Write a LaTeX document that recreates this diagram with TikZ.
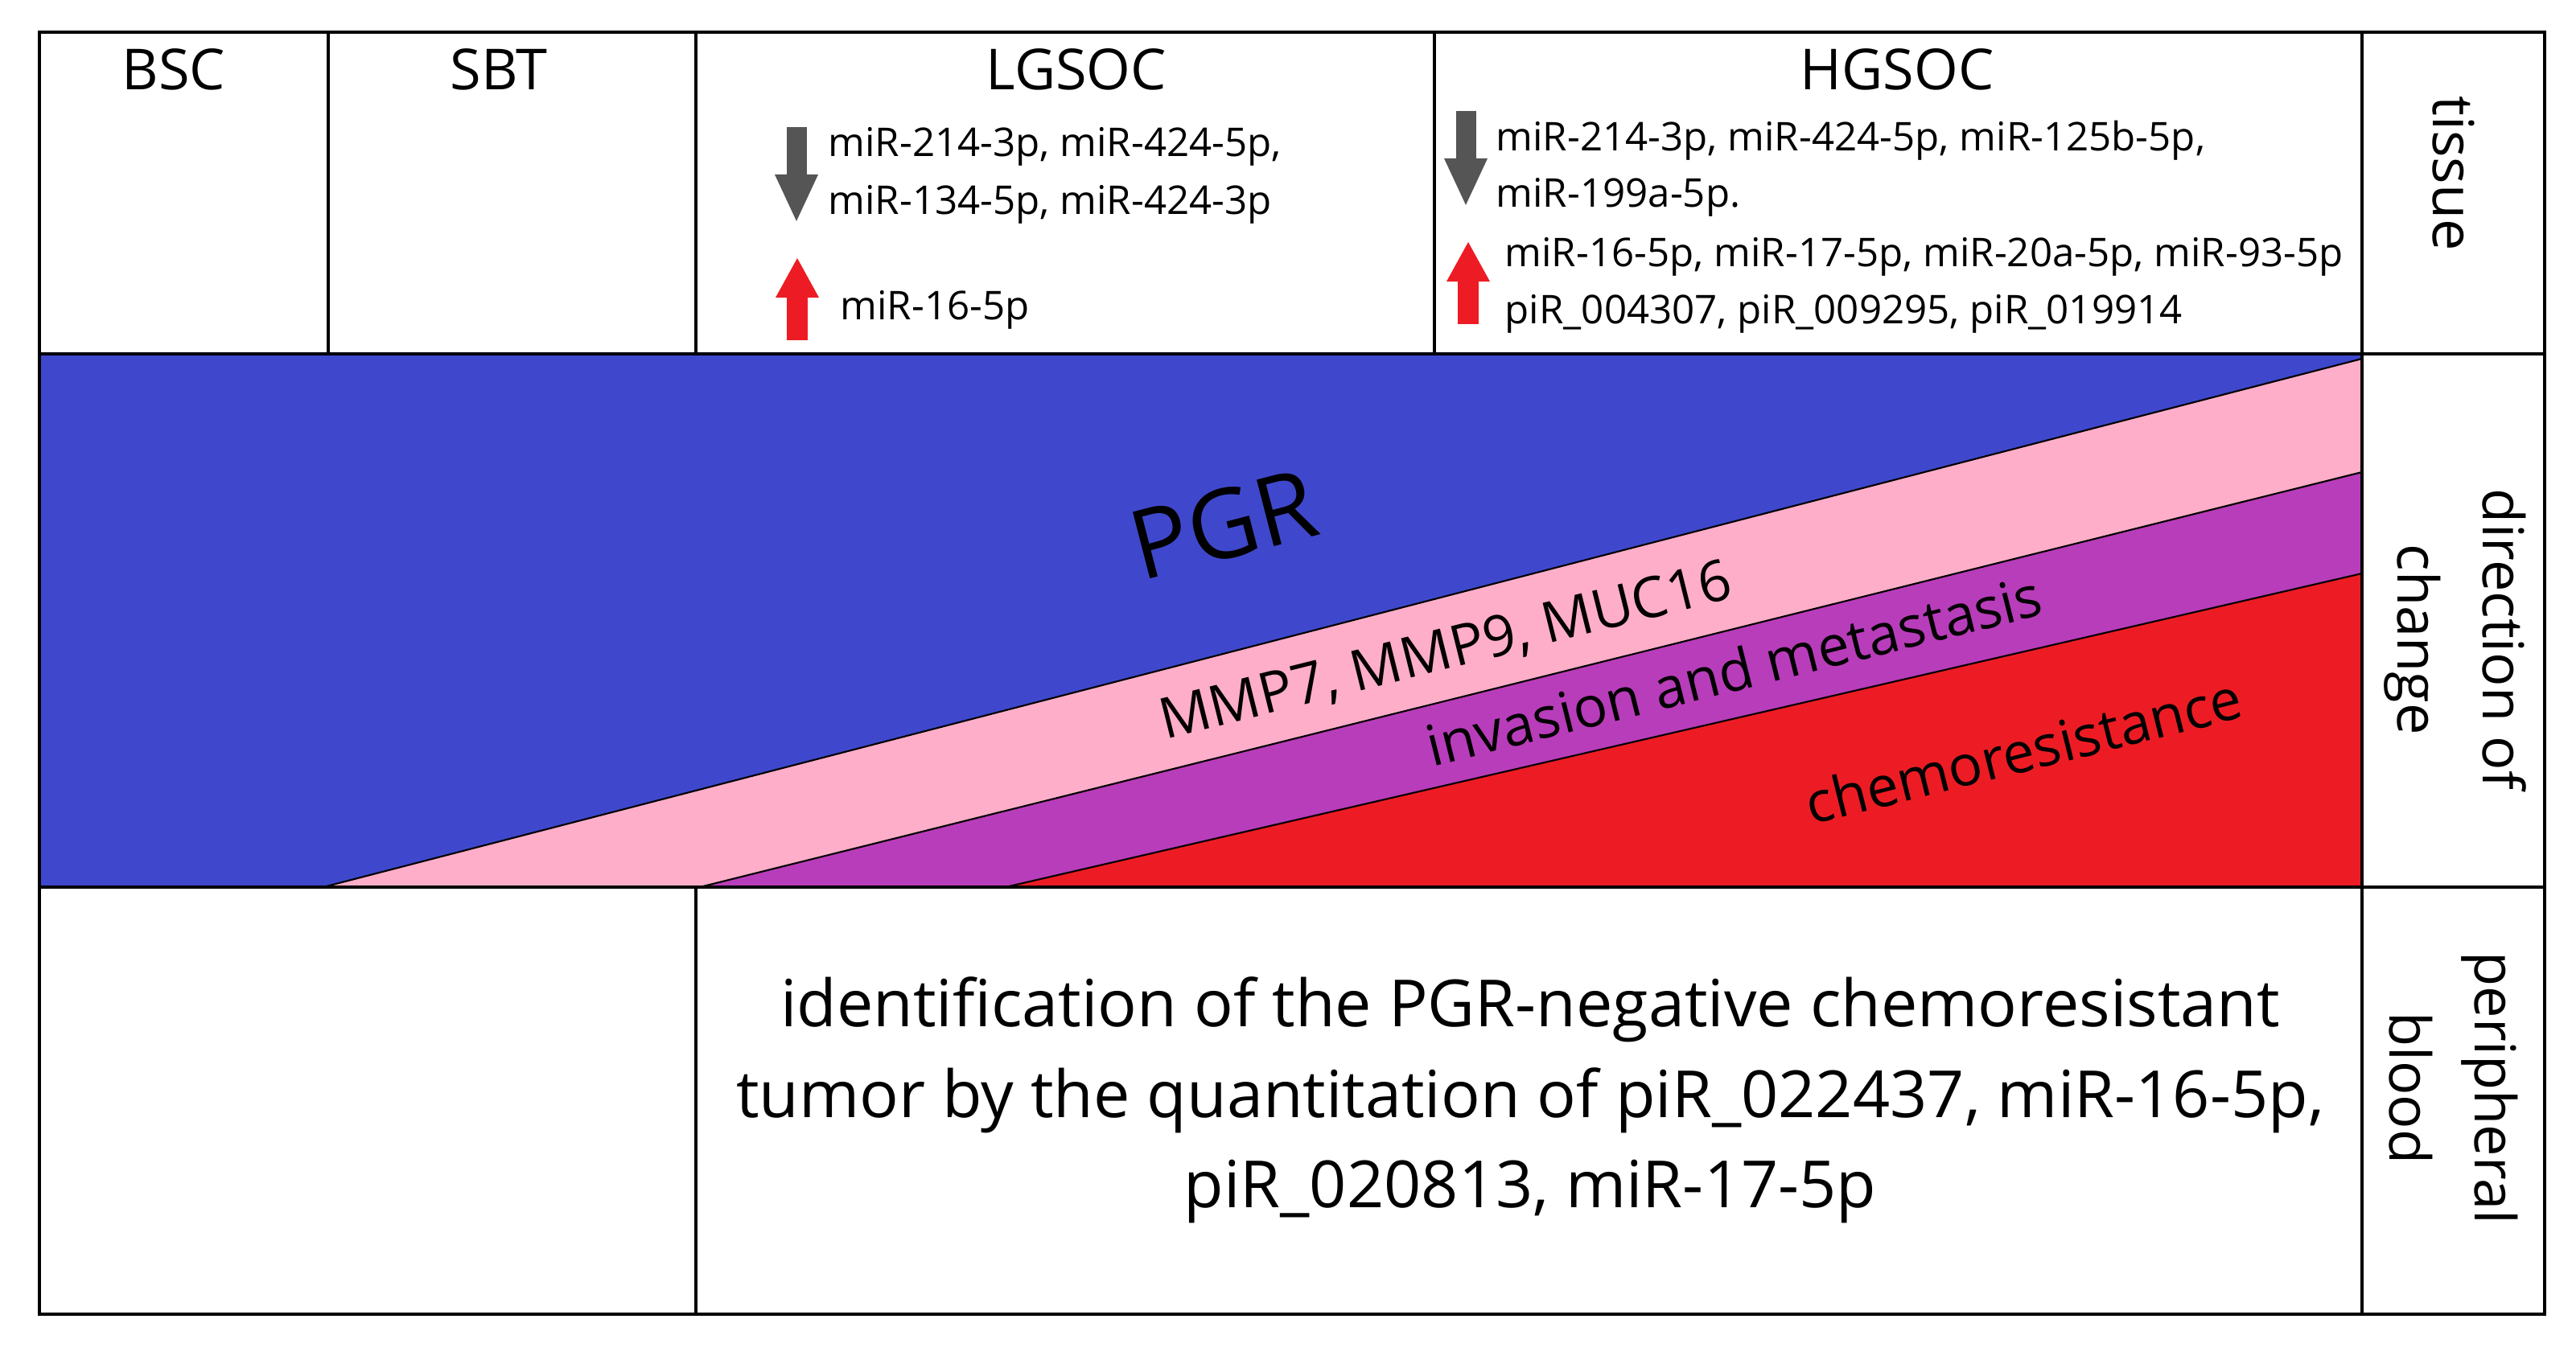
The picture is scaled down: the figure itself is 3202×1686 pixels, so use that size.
\documentclass[tikz,border=0pt]{standalone}
\usepackage{fontspec}
\setmainfont{Open Sans}
\usetikzlibrary{arrows.meta}

\definecolor{pgrblue}{RGB}{63,72,204}
\definecolor{mmppink}{RGB}{255,174,201}
\definecolor{invpurple}{RGB}{184,61,186}
\definecolor{chemored}{RGB}{237,28,36}
\definecolor{downgray}{RGB}{85,85,85}

\begin{document}
\begin{tikzpicture}[x = 0.01cm, y = -0.01cm, every node/.style = {inner sep = 0pt}, outer/.style = {line width = 1.4pt}, rule/.style = {line width = 1.1pt}, band/.style = {draw = black, line width = 0.6pt}, colhead/.style = {anchor = base, font = \fontsize{20}{24}\selectfont}, mirna/.style = {anchor = base west, font = \fontsize{14}{17}\selectfont}, side/.style = {rotate = -90, align = center, font = \fontsize{20}{30}\selectfont}, bandtext/.style = {rotate = 14, font = \fontsize{20}{24}\selectfont}, downarr/.style = {downgray, line width = 0.25cm, -{Triangle[length = 0.6cm, width = 0.49cm]}}, uparr/.style = {chemored, line width = 0.26cm, -{Triangle[length = 0.5cm, width = 0.5cm]}}]
    \useasboundingbox (0,0) rectangle (3202,1686);
    \coordinate (nw) at (49,40);
    \coordinate (se) at (3163,1634);
    \fill[pgrblue] (49,440) rectangle (2936,1103);
    \filldraw[band, fill = mmppink] (402,1103) -- (2936,446) -- (2936,1103) -- cycle;
    \filldraw[band, fill = invpurple] (870,1103) -- (2936,587) -- (2936,1103) -- cycle;
    \filldraw[band, fill = chemored] (1250,1103) -- (2936,713) -- (2936,1103) -- cycle;
    \draw[rule] (49,440) -- (3163,440) (49,1103) -- (3163,1103);
    \draw[rule] (408,40) -- (408,440) (865,40) -- (865,440) (1783,40) -- (1783,440);
    \draw[rule] (865,1103) -- (865,1634) (2936,40) -- (2936,1634);
    \draw[outer] (nw) rectangle (se);
    \node[colhead] (bsc) at (216,112) {BSC};
    \node[colhead] (sbt) at (620,112) {SBT};
    \node[colhead] (lgsoc) at (1338,112) {LGSOC};
    \node[colhead] (hgsoc) at (2358,112) {HGSOC};
    \node[mirna] (lgdown1) at (1029,195) {miR-214-3p, miR-424-5p,};
    \node[mirna] (lgdown2) at (1029,267) {miR-134-5p, miR-424-3p};
    \node[mirna] (lgup) at (1044,398) {miR-16-5p};
    \node[mirna] (hgdown1) at (1859,188) {miR-214-3p, miR-424-5p, miR-125b-5p,};
    \node[mirna] (hgdown2) at (1859,258) {miR-199a-5p.};
    \node[mirna] (hgup1) at (1870,332) {miR-16-5p, miR-17-5p, miR-20a-5p, miR-93-5p};
    \node[mirna] (hgup2) at (1870,403) {piR\_004307, piR\_009295, piR\_019914};
    \draw[downarr] (990,158) -- (990,277);
    \draw[downarr] (1822,138) -- (1822,257);
    \draw[uparr] (991,423) -- (991,320);
    \draw[uparr] (1825,403) -- (1825,300);
    \node[rotate = 14.5, font = \fontsize{34}{38}\selectfont] (pgr) at (1521,652) {PGR};
    \node[bandtext] (mmp) at (1797,811) {MMP7, MMP9, MUC16};
    \node[bandtext] (invasion) at (2155,833) {invasion and metastasis};
    \node[bandtext] (chemo) at (2515,933) {chemoresistance};
    \node[side] (tissue) at (3050,216) {tissue};
    \node[side] (direction) at (3052,795) {direction of\\change};
    \node[side] (blood) at (3050,1353) {peripheral\\blood};
    \node[align = center, font = \fontsize{23}{32}\selectfont] (ident) at (1902,1368) {identification of the PGR-negative chemoresistant\\tumor by the quantitation of piR\_022437, miR-16-5p,\\piR\_020813, miR-17-5p};
\end{tikzpicture}
\end{document}
